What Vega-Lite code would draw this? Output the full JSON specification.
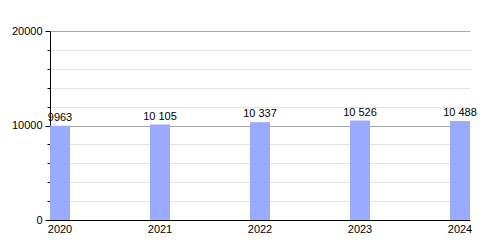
{
  "$schema": "https://vega.github.io/schema/vega-lite/v6.json",
  "width": 420,
  "height": 189,
  "autosize": "none",
  "padding": {"left": 50, "top": 31, "right": 30, "bottom": 30},
  "background": "white",
  "config": {
    "font": "Liberation Sans",
    "view": {"stroke": null}
  },
  "data": {
    "values": [
      {"year": "2020", "value": 9963},
      {"year": "2021", "value": 10105},
      {"year": "2022", "value": 10337},
      {"year": "2023", "value": 10526},
      {"year": "2024", "value": 10488}
    ]
  },
  "encoding": {
    "x": {
      "field": "year",
      "type": "ordinal",
      "scale": {"paddingInner": 0.8, "paddingOuter": 0},
      "axis": {
        "title": null,
        "labelAngle": 0,
        "labelFontSize": 11,
        "labelColor": "#000",
        "ticks": false,
        "domainColor": "#000",
        "domainWidth": 1,
        "labelPadding": 3
      }
    },
    "y": {
      "field": "value",
      "type": "quantitative",
      "scale": {"domain": [0, 20000], "nice": false},
      "axis": {
        "title": null,
        "values": [0, 2000, 4000, 6000, 8000, 10000, 12000, 14000, 16000, 18000, 20000],
        "labelExpr": "datum.value % 10000 === 0 ? datum.value : ''",
        "labelFontSize": 11,
        "labelColor": "#000",
        "domainColor": "#000",
        "tickColor": "#000",
        "tickSize": {"condition": {"test": "datum.value % 10000 === 0", "value": 5}, "value": 3},
        "labelPadding": 3,
        "gridColor": {"condition": {"test": "datum.value % 10000 === 0", "value": "#a8a8a8"}, "value": "#e4e4e4"},
        "gridWidth": 1
      }
    }
  },
  "layer": [
    {"mark": {"type": "bar", "color": "#99aaff"}},
    {
      "mark": {
        "type": "text",
        "baseline": "bottom",
        "dy": -3,
        "fontSize": 11,
        "color": "#000",
        "text": {"expr": "datum.value >= 10000 ? replace(format(datum.value, ','), ',', ' ') : format(datum.value, 'd')"}
      }
    }
  ]
}
